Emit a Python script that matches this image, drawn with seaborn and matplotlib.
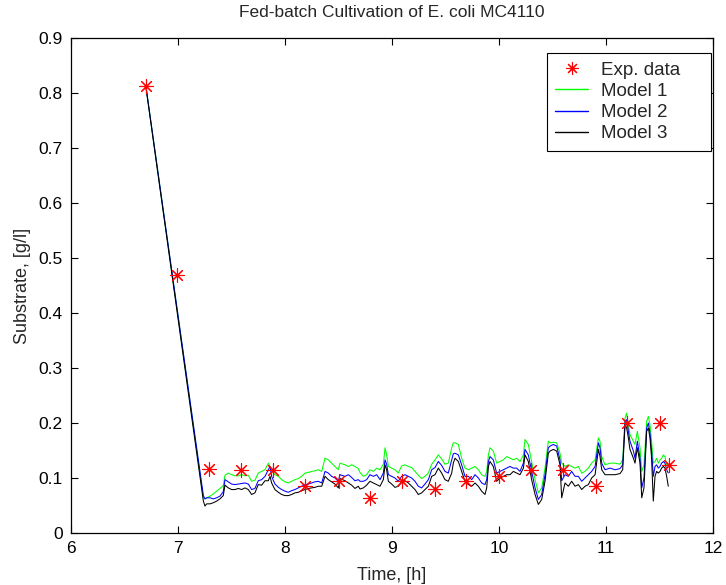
import matplotlib
matplotlib.use("Agg")
import matplotlib.pyplot as plt
from matplotlib.lines import Line2D
import pandas as pd
import seaborn as sns

# ---------------- data ----------------
exp_time = [6.70, 6.99, 7.29, 7.59, 7.89, 8.19, 8.50, 8.79, 9.09, 9.40,
            9.69, 10.00, 10.30, 10.60, 10.91, 11.20, 11.50, 11.59]
exp_substrate = [0.813, 0.470, 0.116, 0.115, 0.114, 0.086, 0.094, 0.064, 0.094, 0.080,
                 0.095, 0.104, 0.114, 0.115, 0.086, 0.200, 0.200, 0.124]

model_time = [
    6.700, 7.237, 7.252, 7.268, 7.299, 7.330, 7.361, 7.392, 7.423, 7.439,
    7.470, 7.501, 7.532, 7.564, 7.595, 7.626, 7.657, 7.688, 7.719, 7.750,
    7.782, 7.813, 7.844, 7.860, 7.875, 7.906, 7.938, 7.969, 8.000, 8.031,
    8.062, 8.093, 8.125, 8.156, 8.187, 8.218, 8.249, 8.280, 8.311, 8.343,
    8.374, 8.405, 8.436, 8.467, 8.498, 8.514, 8.561, 8.592, 8.623, 8.654,
    8.685, 8.701, 8.732, 8.763, 8.794, 8.826, 8.857, 8.888, 8.919, 8.935,
    8.950, 8.966, 8.997, 9.028, 9.059, 9.090, 9.122, 9.153, 9.184, 9.215,
    9.246, 9.277, 9.308, 9.340, 9.371, 9.402, 9.433, 9.464, 9.495, 9.526,
    9.558, 9.573, 9.589, 9.620, 9.651, 9.682, 9.714, 9.745, 9.776, 9.807,
    9.838, 9.869, 9.885, 9.901, 9.916, 9.947, 9.978, 10.010, 10.041, 10.072,
    10.103, 10.134, 10.165, 10.196, 10.228, 10.243, 10.274, 10.305, 10.337, 10.368,
    10.399, 10.430, 10.461, 10.477, 10.508, 10.539, 10.570, 10.586, 10.617, 10.648,
    10.679, 10.711, 10.742, 10.773, 10.804, 10.835, 10.866, 10.898, 10.929, 10.944,
    10.960, 10.991, 11.038, 11.084, 11.131, 11.156, 11.178, 11.193, 11.209, 11.224,
    11.256, 11.271, 11.293, 11.318, 11.334, 11.355, 11.380, 11.396, 11.411, 11.426,
    11.442, 11.458, 11.473, 11.489, 11.505, 11.520, 11.536, 11.551, 11.567, 11.582,
]

model1 = [
    0.813, 0.064, 0.062, 0.064, 0.067, 0.071, 0.076, 0.081, 0.086, 0.105,
    0.109, 0.106, 0.104, 0.104, 0.106, 0.104, 0.105, 0.094, 0.096, 0.109,
    0.112, 0.115, 0.127, 0.121, 0.113, 0.106, 0.103, 0.097, 0.093, 0.091,
    0.094, 0.097, 0.099, 0.103, 0.109, 0.110, 0.112, 0.113, 0.115, 0.112,
    0.136, 0.133, 0.127, 0.121, 0.115, 0.127, 0.124, 0.121, 0.124, 0.121,
    0.117, 0.110, 0.103, 0.106, 0.115, 0.112, 0.118, 0.115, 0.125, 0.155,
    0.142, 0.121, 0.118, 0.115, 0.109, 0.122, 0.124, 0.121, 0.119, 0.112,
    0.105, 0.099, 0.103, 0.109, 0.125, 0.133, 0.142, 0.135, 0.125, 0.127,
    0.155, 0.164, 0.164, 0.161, 0.136, 0.118, 0.115, 0.118, 0.121, 0.115,
    0.106, 0.103, 0.112, 0.142, 0.155, 0.149, 0.127, 0.130, 0.133, 0.139,
    0.136, 0.133, 0.136, 0.130, 0.142, 0.170, 0.161, 0.130, 0.097, 0.073,
    0.082, 0.118, 0.167, 0.164, 0.165, 0.164, 0.145, 0.127, 0.121, 0.124,
    0.121, 0.118, 0.121, 0.109, 0.112, 0.118, 0.127, 0.133, 0.173, 0.167,
    0.139, 0.124, 0.127, 0.127, 0.125, 0.133, 0.209, 0.218, 0.197, 0.179,
    0.167, 0.161, 0.185, 0.155, 0.112, 0.124, 0.203, 0.212, 0.197, 0.167,
    0.127, 0.130, 0.136, 0.127, 0.133, 0.136, 0.142, 0.139, 0.124, 0.121,
]

model2 = [
    0.812, 0.068, 0.062, 0.064, 0.064, 0.062, 0.064, 0.067, 0.075, 0.097,
    0.093, 0.089, 0.088, 0.089, 0.090, 0.091, 0.089, 0.079, 0.081, 0.095,
    0.097, 0.103, 0.115, 0.121, 0.103, 0.089, 0.083, 0.079, 0.076, 0.074,
    0.077, 0.079, 0.082, 0.085, 0.088, 0.089, 0.091, 0.093, 0.094, 0.091,
    0.112, 0.109, 0.103, 0.100, 0.094, 0.106, 0.103, 0.106, 0.101, 0.095,
    0.097, 0.094, 0.094, 0.097, 0.106, 0.103, 0.106, 0.097, 0.109, 0.133,
    0.125, 0.106, 0.103, 0.100, 0.094, 0.103, 0.106, 0.103, 0.100, 0.094,
    0.085, 0.082, 0.089, 0.097, 0.115, 0.119, 0.130, 0.123, 0.112, 0.109,
    0.133, 0.144, 0.145, 0.142, 0.124, 0.103, 0.103, 0.097, 0.106, 0.100,
    0.091, 0.088, 0.097, 0.130, 0.139, 0.133, 0.109, 0.112, 0.115, 0.118,
    0.121, 0.118, 0.118, 0.112, 0.127, 0.152, 0.142, 0.112, 0.082, 0.061,
    0.070, 0.106, 0.155, 0.158, 0.161, 0.158, 0.133, 0.095, 0.106, 0.103,
    0.112, 0.103, 0.103, 0.094, 0.100, 0.106, 0.112, 0.121, 0.164, 0.155,
    0.127, 0.115, 0.118, 0.115, 0.117, 0.124, 0.203, 0.206, 0.185, 0.167,
    0.149, 0.136, 0.167, 0.136, 0.082, 0.100, 0.191, 0.200, 0.182, 0.149,
    0.103, 0.121, 0.124, 0.118, 0.121, 0.127, 0.130, 0.127, 0.115, 0.109,
]

model3 = [
    0.811, 0.058, 0.049, 0.053, 0.053, 0.055, 0.058, 0.062, 0.068, 0.087,
    0.082, 0.079, 0.079, 0.081, 0.079, 0.082, 0.079, 0.070, 0.073, 0.088,
    0.087, 0.095, 0.095, 0.103, 0.091, 0.079, 0.074, 0.070, 0.068, 0.068,
    0.070, 0.073, 0.074, 0.077, 0.079, 0.081, 0.082, 0.083, 0.085, 0.085,
    0.103, 0.097, 0.093, 0.089, 0.082, 0.099, 0.095, 0.091, 0.087, 0.081,
    0.085, 0.080, 0.082, 0.087, 0.094, 0.091, 0.088, 0.085, 0.097, 0.124,
    0.115, 0.094, 0.089, 0.083, 0.085, 0.093, 0.095, 0.091, 0.085, 0.079,
    0.070, 0.073, 0.079, 0.085, 0.103, 0.106, 0.118, 0.109, 0.097, 0.094,
    0.109, 0.127, 0.136, 0.130, 0.112, 0.094, 0.088, 0.085, 0.091, 0.085,
    0.076, 0.070, 0.082, 0.121, 0.130, 0.121, 0.094, 0.100, 0.103, 0.106,
    0.106, 0.112, 0.109, 0.106, 0.118, 0.142, 0.130, 0.097, 0.070, 0.052,
    0.061, 0.094, 0.145, 0.149, 0.152, 0.149, 0.124, 0.064, 0.091, 0.085,
    0.094, 0.085, 0.088, 0.079, 0.085, 0.088, 0.100, 0.106, 0.152, 0.139,
    0.115, 0.106, 0.106, 0.106, 0.108, 0.115, 0.197, 0.191, 0.173, 0.152,
    0.136, 0.127, 0.155, 0.127, 0.064, 0.082, 0.185, 0.191, 0.173, 0.136,
    0.058, 0.103, 0.112, 0.109, 0.112, 0.118, 0.121, 0.118, 0.103, 0.085,
]

model_names = ["Model 1", "Model 2", "Model 3"]
model_colors = ["#00ff00", "#0000ff", "#000000"]
x_ticks = [6, 7, 8, 9, 10, 11, 12]
y_ticks = [0, 0.1, 0.2, 0.3, 0.4, 0.5, 0.6, 0.7, 0.8, 0.9]
y_tick_labels = ["0", "0.1", "0.2", "0.3", "0.4", "0.5", "0.6", "0.7", "0.8", "0.9"]

# ---------------- tables ----------------
models_df = pd.concat([
    pd.DataFrame({"Time": model_time, "Substrate": vals, "Model": name})
    for name, vals in zip(model_names, [model1, model2, model3])
], ignore_index=True)
exp_df = pd.DataFrame({"Time": exp_time, "Substrate": exp_substrate})

# ---------------- plot ----------------
sns.set_theme(style="white")
plt.rcParams["font.family"] = ["Liberation Sans", "DejaVu Sans"]

fig = plt.figure(figsize=(7.26, 5.85), dpi=100)
ax = fig.add_axes([71 / 726, 1 - 533 / 585, 642 / 726, 495 / 585])

sns.lineplot(data=models_df, x="Time", y="Substrate", hue="Model",
             palette=dict(zip(model_names, model_colors)),
             estimator=None, sort=False, linewidth=0.75, legend=False, ax=ax)
sns.scatterplot(data=exp_df, x="Time", y="Substrate", marker=(8, 2, 0),
                color="#ff0000", s=95, linewidth=0.8, edgecolor="#ff0000",
                legend=False, ax=ax, zorder=5)

ax.set_xlim(6, 12)
ax.set_ylim(0, 0.9)
ax.set_xticks(x_ticks)
ax.set_xticklabels([str(t) for t in x_ticks])
ax.set_yticks(y_ticks)
ax.set_yticklabels(y_tick_labels)
ax.tick_params(direction="in", length=5, width=0.8, top=True, right=True,
               bottom=True, left=True, labelsize=12.5, colors="black", pad=6)
for sp in ax.spines.values():
    sp.set_color("black")
    sp.set_linewidth(0.9)

ax.set_title("Fed-batch Cultivation of E. coli MC4110", fontsize=12.5, pad=15)
ax.set_xlabel("Time, [h]", fontsize=13, labelpad=8)
ax.set_ylabel("Substrate, [g/l]", fontsize=13, labelpad=5)

handles = [Line2D([], [], linestyle="none", marker=(8, 2, 0), color="#ff0000",
                  markersize=9, markeredgewidth=0.8)]
handles += [Line2D([], [], color=c, linewidth=1.0) for c in model_colors]
labels = ["Exp. data"] + model_names
leg = ax.legend(handles, labels, loc="upper left",
                bbox_to_anchor=((547 - 71) / 642, 0.0, (711 - 547) / 642, (533 - 53) / 495),
                mode="expand", fontsize=13.5, frameon=True, fancybox=False,
                edgecolor="black", framealpha=1, borderpad=0.45, labelspacing=0.22,
                handlelength=1.75, handletextpad=0.7, borderaxespad=0)
leg.get_frame().set_linewidth(0.8)

fig.savefig("out.png", dpi=100, facecolor="white")
